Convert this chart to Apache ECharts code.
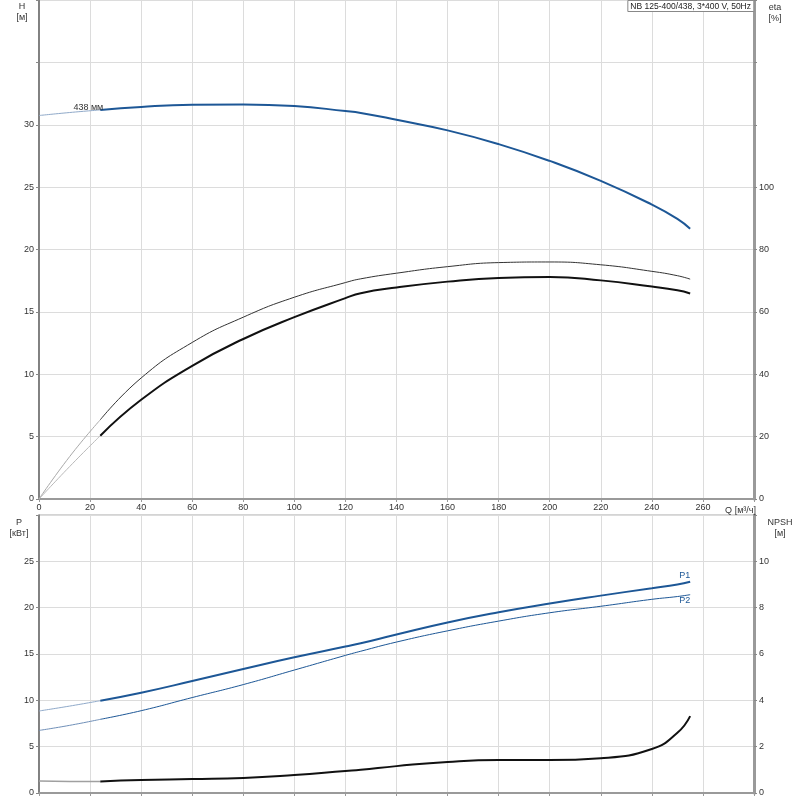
<!DOCTYPE html>
<html>
<head>
<meta charset="utf-8">
<script src="https://cdn.jsdelivr.net/npm/echarts@6/dist/echarts.min.js"></script>
<style>
  html, body { margin: 0; padding: 0; background: #fff; }
  #chart { width: 800px; height: 800px; }
</style>
</head>
<body>
<div id="chart"></div>
<script>
// flow points Q [m3/h]
const qPts = [0, 12, 24, 40, 60, 80, 100, 120, 126, 140, 160, 180, 200, 220, 240, 250, 255];
// head H [m]
const hVals = [30.74, 30.98, 31.19, 31.43, 31.6, 31.63, 31.5, 31.1, 30.95, 30.4, 29.55, 28.45, 27.1, 25.5, 23.6, 22.45, 21.66];
// efficiency [%]
const etaPump = [0, 13.6, 25.4, 38.8, 50.2, 58.3, 64.7, 69.4, 70.6, 72.4, 74.5, 75.8, 76.0, 75.1, 73.0, 71.6, 70.5];
const etaTotal = [0, 10.4, 20.3, 31.8, 42.7, 51.3, 58.3, 64.4, 66.0, 67.8, 69.7, 70.9, 71.2, 70.1, 68.1, 66.9, 65.9];
// power [kW]
const p1Vals = [8.85, 9.38, 9.96, 10.82, 12.08, 13.38, 14.64, 15.8, 16.15, 17.1, 18.4, 19.5, 20.45, 21.3, 22.1, 22.5, 22.8];
const p2Vals = [6.75, 7.3, 7.95, 8.88, 10.3, 11.7, 13.27, 14.85, 15.3, 16.29, 17.5, 18.55, 19.45, 20.15, 20.9, 21.2, 21.4];
// NPSH [m]
const npshVals = [0.52, 0.5, 0.5, 0.56, 0.6, 0.65, 0.78, 0.95, 1.0, 1.16, 1.34, 1.42, 1.42, 1.5, 1.9, 2.6, 3.32];

const qStart = 24; // start of the working range
const titleText = 'NB 125-400/438, 3*400 V, 50Hz';

const FONT = 'Liberation Sans, Arial, sans-serif';
const BLUE = '#1d5796';

function pairs(vals, from, to) {
  const out = [];
  qPts.forEach((q, i) => { if (q >= from && q <= to) out.push([q, vals[i]]); });
  return out;
}

function line(data, xi, yi, color, width, extra) {
  return Object.assign({
    type: 'line',
    xAxisIndex: xi,
    yAxisIndex: yi,
    data: data,
    smooth: 0.5,
    showSymbol: false,
    silent: true,
    lineStyle: { color: color, width: width },
    z: 3
  }, extra || {});
}

// series that carry a text label on one point need a (hidden) symbol
const labelled = { showSymbol: true, symbol: 'circle', symbolSize: 1, itemStyle: { color: 'rgba(0,0,0,0)' } };

function withLabel(data, idx, label) {
  data[idx] = { value: data[idx], label: Object.assign({ show: true, fontSize: 9, fontFamily: FONT }, label) };
  return data;
}

const qMax = qPts[qPts.length - 1];

const hLight = pairs(hVals, 0, qStart);
withLabel(hLight, hLight.length - 1, { formatter: '438 мм', position: 'top', align: 'right', distance: -3, offset: [3, 0], color: '#333' });

const p1Work = pairs(p1Vals, qStart, qMax);
withLabel(p1Work, p1Work.length - 1, { formatter: 'P1', position: 'top', align: 'right', distance: 1, color: BLUE });
const p2Work = pairs(p2Vals, qStart, qMax);
withLabel(p2Work, p2Work.length - 1, { formatter: 'P2', position: 'bottom', align: 'right', distance: 1, color: BLUE });

const labelStyle = { color: '#333', fontSize: 9, fontFamily: FONT };
const gridLine = { show: true, lineStyle: { color: '#dcdcdc', width: 1 } };

function xAxis(gi, showLabels) {
  return {
    type: 'value', gridIndex: gi, min: 0, max: 280, interval: 20,
    name: showLabels ? 'Q [м³/ч]' : '',
    nameLocation: 'end', nameGap: 2,
    nameTextStyle: { color: '#333', fontSize: 9, fontFamily: FONT, align: 'right', verticalAlign: 'top', padding: [7, 0, 0, 0] },
    axisLine: { show: true, lineStyle: { color: '#9a9a9a', width: 2 } },
    axisTick: { show: true, length: 3, lineStyle: { color: '#9a9a9a' } },
    axisLabel: Object.assign({ show: showLabels, margin: 4, formatter: v => (v > 260 ? '' : v) }, labelStyle),
    splitLine: gridLine
  };
}

function yAxis(gi, pos, max, interval, labelMax, split, lineW, lineColor) {
  return {
    type: 'value', gridIndex: gi, position: pos, min: 0, max: max, interval: interval,
    axisLine: { show: true, onZero: false, lineStyle: { color: lineColor, width: lineW } },
    axisTick: { show: true, length: 3, lineStyle: { color: '#888' } },
    axisLabel: Object.assign({ margin: 5, formatter: v => (v > labelMax ? '' : v) }, labelStyle),
    splitLine: split ? gridLine : { show: false }
  };
}

const chart = echarts.init(document.getElementById('chart'));
chart.setOption({
  animation: false,
  backgroundColor: '#fff',
  textStyle: { fontFamily: FONT },
  title: {
    text: titleText,
    right: 46, top: 0,
    padding: [2, 3, 1, 3],
    borderColor: '#888', borderWidth: 1,
    backgroundColor: '#fff',
    textStyle: { color: '#222', fontSize: 8.5, fontWeight: 'normal', fontFamily: FONT },
    z: 10
  },
  grid: [
    { left: 39, right: 46, top: 0, bottom: 301, show: true, borderColor: '#a8a8a8', borderWidth: 1 },
    { left: 39, right: 46, top: 515, bottom: 7, show: true, borderColor: '#a8a8a8', borderWidth: 1 }
  ],
  xAxis: [xAxis(0, true), xAxis(1, false)],
  yAxis: [
    yAxis(0, 'left', 40, 5, 30, true, 1.5, '#666'),
    yAxis(0, 'right', 160, 20, 100, false, 3, '#9a9a9a'),
    yAxis(1, 'left', 30, 5, 25, true, 1.5, '#666'),
    yAxis(1, 'right', 12, 2, 10, false, 3, '#9a9a9a')
  ],
  graphic: [
    { type: 'text', x: 22, y: 1, style: { text: 'H\n[м]', align: 'center', fill: '#333', fontSize: 9, fontFamily: FONT, lineHeight: 11 } },
    { type: 'text', x: 775, y: 2, style: { text: 'eta\n[%]', align: 'center', fill: '#333', fontSize: 9, fontFamily: FONT, lineHeight: 11 } },
    { type: 'text', x: 19, y: 517, style: { text: 'P\n[кВт]', align: 'center', fill: '#333', fontSize: 9, fontFamily: FONT, lineHeight: 11 } },
    { type: 'text', x: 780, y: 517, style: { text: 'NPSH\n[м]', align: 'center', fill: '#333', fontSize: 9, fontFamily: FONT, lineHeight: 11 } }
  ],
  series: [
    line(hLight, 0, 0, '#8fa9c9', 1, labelled),
    line(pairs(hVals, qStart, qMax), 0, 0, BLUE, 2),
    line(pairs(etaPump, 0, qStart), 0, 1, '#a8a8a8', 1),
    line(pairs(etaPump, qStart, qMax), 0, 1, '#333', 1),
    line(pairs(etaTotal, 0, qStart), 0, 1, '#b8b8b8', 1),
    line(pairs(etaTotal, qStart, qMax), 0, 1, '#111', 2),
    line(pairs(p1Vals, 0, qStart), 1, 2, '#8fa9c9', 1),
    line(p1Work, 1, 2, BLUE, 2, labelled),
    line(pairs(p2Vals, 0, qStart), 1, 2, '#6f8fb8', 1),
    line(p2Work, 1, 2, BLUE, 1, labelled),
    line(pairs(npshVals, 0, qStart), 1, 3, '#a0a0a0', 1.5),
    line(pairs(npshVals, qStart, qMax), 1, 3, '#111', 2)
  ]
});
</script>
</body>
</html>
